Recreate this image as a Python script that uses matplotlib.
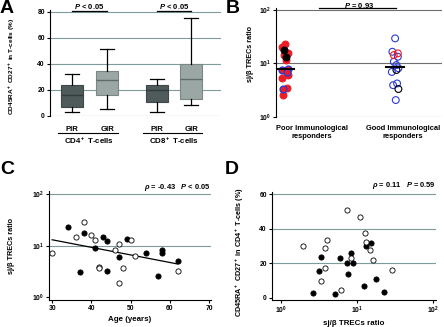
import numpy as np
import matplotlib
matplotlib.use('Agg')
import matplotlib.pyplot as plt
import matplotlib.transforms as mtransforms
from matplotlib.ticker import FixedLocator, NullLocator

plt.rcParams['font.family'] = ['Liberation Sans', 'DejaVu Sans']
plt.rcParams['font.weight'] = 'bold'
plt.rcParams['mathtext.fontset'] = 'custom'
plt.rcParams['mathtext.rm'] = 'Liberation Sans:bold'
plt.rcParams['mathtext.it'] = 'Liberation Sans:italic:bold'
plt.rcParams['mathtext.bf'] = 'Liberation Sans:bold'
plt.rcParams['axes.linewidth'] = 0.8

# ---------------- data ----------------
# Panel A (box plots)
a_groups = ['PIR', 'GIR', 'PIR', 'GIR']
a_cells = ['CD4$^+$ T-cells', 'CD8$^+$ T-cells']
a_whislo = [2.6, 5.2, 3.0, 8.3]
a_q1 = [6.5, 16.1, 10.3, 13.0]
a_med = [15.6, 27.8, 20.0, 28.0]
a_q3 = [23.4, 34.3, 23.9, 39.5]
a_whishi = [31.7, 51.0, 28.0, 75.0]
a_pvals = ['$P$ < 0.05', '$P$ < 0.05']
a_yticks = [0, 20, 40, 60, 80]

# Panel B (sj/beta TRECs by responder group)
b_categories = ['Poor Immunological\nresponders', 'Good Immunological\nresponders']
b_poor_red = [23.5, 20.0, 15.5, 14.3, 11.5, 6.0, 5.4, 3.4, 2.6]
b_poor_black = [17.8, 13.0]
b_poor_blue = [8.0, 7.5, 7.0, 3.25]
b_good_blue = [29.4, 16.5, 13.3, 10.7, 9.3, 8.1, 6.9, 4.2, 3.9, 2.05]
b_good_red = [15.4, 14.3]
b_good_black = [7.5, 3.3]
b_pval = '$P$ = 0.93'

# Panel C (TRECs vs age)
c_age_filled = [34, 38, 37, 43, 44, 41, 44, 47, 49, 54, 58, 58, 57, 62]
c_trec_filled = [22.6, 17.9, 3.05, 14.9, 12.3, 8.9, 3.2, 6.0, 13.5, 7.1, 8.2, 7.3, 2.6, 5.0]
c_age_open = [30, 36, 38, 40, 41, 42, 42, 46, 47, 48, 47, 50, 51, 62]
c_trec_open = [7.1, 14.9, 28.7, 15.8, 12.9, 3.9, 3.75, 8.2, 10.8, 3.7, 1.92, 13.1, 6.3, 3.24]
c_stats = r'$\rho$ = -0.43   $P$ < 0.05'
c_xticks = [30, 40, 50, 60, 70]

# Panel D (naive CD4 % vs TRECs)
d_trec_filled = [2.67, 3.34, 3.17, 5.15, 6.0, 7.3, 7.6, 8.46, 9.0, 12.3, 13.3, 15.2, 17.9, 22.8]
d_pct_filled = [2.9, 23.3, 15.4, 2.3, 22.9, 20.0, 13.5, 25.8, 20.4, 6.6, 29.7, 31.8, 10.6, 3.1]
d_trec_open = [1.97, 3.8, 4.0, 3.85, 3.34, 6.25, 7.5, 8.3, 11.0, 12.9, 13.2, 14.9, 16.3, 29.1]
d_pct_open = [29.9, 28.9, 33.7, 17.5, 9.6, 4.6, 50.9, 23.1, 46.8, 37.6, 32.2, 27.6, 22.0, 15.8]
d_stats = r'$\rho$ = 0.11   $P$ = 0.59'
d_yticks = [0, 20, 40, 60]

# ---------------- style ----------------
W, H = 444, 327
fig = plt.figure(figsize=(W / 100, H / 100), dpi=100)
GRID = '#7e9c9c'
TICK_FS = 4.9
LAB_FS = 5.2
RED = '#ee1c24'
BLUE = '#2b3bd6'


def ax_px(l, t, r, b):
    return fig.add_axes([l / W, 1 - b / H, (r - l) / W, (b - t) / H])


def style_ticks(ax):
    ax.tick_params(axis='both', labelsize=TICK_FS, length=2.2, width=0.8, pad=1.5)
    for lab in ax.get_xticklabels() + ax.get_yticklabels():
        lab.set_fontweight('bold')


def px_y(ax, ypx):
    """figure pixel row -> axes fraction"""
    bb = ax.get_position()
    return ((1 - ypx / H) - bb.y0) / bb.height


# ---------------- Panel A ----------------
axA = ax_px(50, 10, 221, 115.5)
a_pos = [1, 2, 3.43, 4.4]
stats = []
for i in range(4):
    stats.append(dict(whislo=a_whislo[i], q1=a_q1[i], med=a_med[i], q3=a_q3[i],
                      whishi=a_whishi[i], fliers=[], label=a_groups[i]))
bp = axA.bxp(stats, positions=a_pos, widths=0.65, capwidths=0.38, patch_artist=True,
             showfliers=False, manage_ticks=False,
             whiskerprops=dict(color='black', lw=0.9),
             capprops=dict(color='black', lw=0.9))
box_fc = ['#4f5b5b', '#9ba7a5', '#4f5b5b', '#9ba7a5']
box_ec = ['#3e4848', '#7b8785', '#3e4848', '#7b8785']
med_c = ['#323b3b', '#5f6b69', '#323b3b', '#5f6b69']
for patch, fc, ec in zip(bp['boxes'], box_fc, box_ec):
    patch.set_facecolor(fc)
    patch.set_edgecolor(ec)
    patch.set_linewidth(0.8)
for m, c in zip(bp['medians'], med_c):
    m.set_color(c)
    m.set_linewidth(1.0)
axA.set_xlim(0.371, 5.257)
axA.set_ylim(0, 81.5)
axA.set_yticks(a_yticks)
axA.yaxis.grid(True, color=GRID, lw=0.8)
axA.set_axisbelow(True)
for s in ['top', 'right', 'bottom']:
    axA.spines[s].set_visible(False)
axA.set_xticks(a_pos)
axA.set_xticklabels(a_groups)
style_ticks(axA)
axA.tick_params(axis='x', length=0, labelsize=LAB_FS + 0.4, pad=7.5)
axA.set_ylabel('CD45RA$^+$ CD27$^+$ in T-cells (%)', fontsize=LAB_FS - 0.55, fontweight='bold')
axA.yaxis.set_label_coords(-0.19, 0.46)
trA = mtransforms.blended_transform_factory(axA.transData, axA.transAxes)
for g, (x0, x1) in enumerate([(a_pos[0], a_pos[1]), (a_pos[2], a_pos[3])]):
    axA.plot([x0 - 0.4, x1 + 0.3], [px_y(axA, 133)] * 2, color='black', lw=0.8,
             transform=trA, clip_on=False)
    axA.text((x0 + x1) / 2, px_y(axA, 140.5), a_cells[g], transform=trA, ha='center', va='center',
             fontsize=LAB_FS + 0.5, fontweight='bold')
    axA.plot([x0, x1], [px_y(axA, 10.5)] * 2, color='black', lw=0.9, transform=trA, clip_on=False)
    axA.text((x0 + x1) / 2, px_y(axA, 8.8), a_pvals[g], transform=trA, ha='center', va='baseline',
             fontsize=LAB_FS + 0.3, fontweight='bold')

# ---------------- Panel B ----------------
axB = ax_px(276, 8, 442, 116.7)
axB.set_yscale('log')
axB.set_ylim(1, 109)
axB.set_xlim(0.918, 2.426)
for yv in [1, 10, 100]:
    axB.axhline(yv, color='#6e6e6e', lw=0.8, zorder=0)
axB.yaxis.set_major_locator(FixedLocator([1, 10, 100]))
axB.yaxis.set_minor_locator(NullLocator())
axB.set_xticks([])
for s in ['top', 'right', 'bottom']:
    axB.spines[s].set_visible(False)
style_ticks(axB)
jit = [0.0, -0.025, 0.025, -0.012, 0.012, 0.03, -0.03, 0.018, -0.018, 0.006, -0.006]


def jx(x0, n, shift=0):
    return [x0 + jit[(i + shift) % len(jit)] for i in range(n)]


S_B = 24
axB.scatter(jx(1, len(b_poor_red)), b_poor_red, s=S_B, c=RED, edgecolors=RED, lw=0.8, zorder=3)
axB.scatter(jx(1, len(b_poor_black), 3), b_poor_black, s=S_B, c='black', edgecolors='black', lw=0.8, zorder=3)
axB.scatter(jx(1, len(b_poor_blue), 5), b_poor_blue, s=S_B, c=RED, edgecolors=BLUE, lw=1.0, zorder=3)
axB.scatter(jx(2, len(b_good_blue)), b_good_blue, s=S_B, facecolors='none', edgecolors=BLUE, lw=0.8, zorder=3)
axB.scatter(jx(2, len(b_good_red), 2), b_good_red, s=S_B, facecolors='none', edgecolors=RED, lw=0.8, zorder=3)
axB.scatter(jx(2, len(b_good_black), 4), b_good_black, s=S_B, facecolors='none', edgecolors='black', lw=0.8, zorder=3)
poor_all = b_poor_red + b_poor_black + b_poor_blue
good_all = b_good_blue + b_good_red + b_good_black
for x0, vals in [(1, poor_all), (2, good_all)]:
    axB.plot([x0 - 0.085, x0 + 0.085], [np.median(vals)] * 2, color='black', lw=1.5, zorder=4)
axB.set_ylabel('sj/β TRECs ratio', fontsize=LAB_FS, fontweight='bold')
axB.yaxis.set_label_coords(-0.135, 0.58)
for xf, lab in zip([0.217, 0.765], b_categories):
    axB.text(xf, px_y(axB, 125.5), lab, transform=axB.transAxes, ha='center', va='top',
             fontsize=LAB_FS + 0.2, fontweight='bold', linespacing=1.2)
axB.plot([0.26, 0.72], [1.0, 1.0], color='black', lw=0.9, transform=axB.transAxes, clip_on=False)
axB.text(0.5, px_y(axB, 7.5), b_pval, transform=axB.transAxes, ha='center', va='baseline',
         fontsize=LAB_FS + 0.3, fontweight='bold')

# ---------------- Panel C ----------------
axC = ax_px(49, 191, 211, 300)
axC.set_yscale('log')
axC.set_ylim(0.887, 114)
axC.set_xlim(29.2, 70.5)
for yv in [10, 100]:
    axC.axhline(yv, color=GRID, lw=0.8, zorder=0)
axC.yaxis.set_major_locator(FixedLocator([1, 10, 100]))
axC.yaxis.set_minor_locator(NullLocator())
axC.set_xticks(c_xticks)
for s in ['top', 'right']:
    axC.spines[s].set_visible(False)
style_ticks(axC)
S_C = 14
axC.scatter(c_age_filled, c_trec_filled, s=S_C, c='black', edgecolors='black', lw=0.6, zorder=3)
axC.scatter(c_age_open, c_trec_open, s=S_C, facecolors='white', edgecolors='black', lw=0.6, zorder=3)
ages = np.array(c_age_filled + c_age_open, dtype=float)
trecs = np.log10(np.array(c_trec_filled + c_trec_open))
k, b0 = np.polyfit(ages, trecs, 1)
xx = np.array([ages.min(), ages.max()])
axC.plot(xx, 10 ** (k * xx + b0), color='black', lw=0.9, zorder=2)
axC.set_ylabel('sj/β TRECs ratio', fontsize=LAB_FS, fontweight='bold')
axC.yaxis.set_label_coords(-0.21, 0.5)
axC.set_xlabel('Age (years)', fontsize=LAB_FS + 0.5, fontweight='bold', labelpad=2.5)
axC.text(1.0, 104, c_stats,
         transform=mtransforms.blended_transform_factory(axC.transAxes, axC.transData),
         ha='right', va='bottom', fontsize=LAB_FS + 0.2, fontweight='bold')

# ---------------- Panel D ----------------
axD = ax_px(272, 192, 436, 300)
axD.set_xscale('log')
axD.set_xlim(0.76, 110)
axD.set_ylim(-1.3, 61.2)
for yv in [20, 40, 60]:
    axD.axhline(yv, color=GRID, lw=0.8, zorder=0)
axD.set_yticks(d_yticks)
axD.xaxis.set_major_locator(FixedLocator([1, 10, 100]))
axD.xaxis.set_minor_locator(NullLocator())
for s in ['top', 'right']:
    axD.spines[s].set_visible(False)
style_ticks(axD)
axD.scatter(d_trec_filled, d_pct_filled, s=S_C, c='black', edgecolors='black', lw=0.6, zorder=3)
axD.scatter(d_trec_open, d_pct_open, s=S_C, facecolors='white', edgecolors='black', lw=0.6, zorder=3)
axD.set_ylabel('CD45RA$^+$ CD27$^+$ in CD4$^+$ T-cells (%)', fontsize=LAB_FS, fontweight='bold')
axD.yaxis.set_label_coords(-0.16, 0.44)
axD.set_xlabel('sj/β TRECs ratio', fontsize=LAB_FS + 0.5, fontweight='bold', labelpad=2.5)
axD.text(1.0, 61.8, d_stats, transform=mtransforms.blended_transform_factory(axD.transAxes, axD.transData),
         ha='right', va='bottom', fontsize=LAB_FS + 0.2, fontweight='bold')

# ---------------- panel letters ----------------
for xp, yp, lab in [(0, 0, 'A'), (226, 0, 'B'), (0, 161, 'C'), (225, 161, 'D')]:
    fig.text(xp / W, 1 - yp / H, lab, fontsize=14, fontweight='bold', ha='left', va='top')

fig.savefig('out.png', dpi=100)
